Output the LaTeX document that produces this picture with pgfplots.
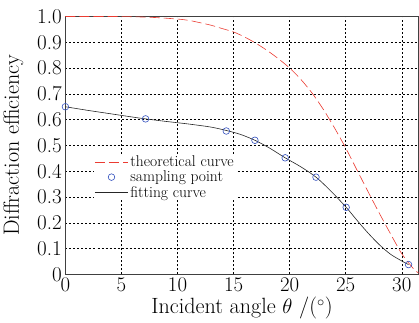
\documentclass[border=0pt]{standalone}
\usepackage{pgfplots}
\pgfplotsset{compat=1.18}
\definecolor{theo}{RGB}{235,60,50}
\definecolor{samp}{RGB}{50,80,190}
\begin{document}
\begin{tikzpicture}
\begin{axis}[
  scale only axis,
  width=352pt, height=257pt,
  xmin=0, xmax=31.5, ymin=0, ymax=1,
  xtick={0,5,10,15,20,25,30},
  ytick={0,0.1,0.2,0.3,0.4,0.5,0.6,0.7,0.8,0.9,1.0},
  yticklabels={0,0.1,0.2,0.3,0.4,0.5,0.6,0.7,0.8,0.9,1.0},
  grid=major,
  grid style={black, dash pattern=on 2pt off 2pt, line width=0.5pt},
  major tick length=0pt,
  axis line style={black!75, line width=0.8pt},
  tick label style={font=\fontsize{21}{21}\selectfont},
  label style={font=\fontsize{22}{22}\selectfont},
  xlabel={Incident angle $\theta$ /($^\circ$)},
  ylabel={Diffraction efficiency},
  xlabel style={yshift=1pt},
  ylabel style={yshift=7pt},
  legend style={draw=none, fill=white, at={(axis cs:2.5,0.465)}, anchor=north west,
    font=\fontsize{15.5}{14}\selectfont, row sep=3pt, inner sep=1pt,
    nodes={inner ysep=0pt}},
  legend cell align=left,
  legend image code/.code={\draw[mark repeat=2,mark phase=2] plot coordinates {(0cm,0cm) (0.58cm,0cm) (1.16cm,0cm)};},
]
\addplot[theo, line width=0.6pt, dash pattern=on 10pt off 4pt, smooth] coordinates {
 (0,1.0) (2,1.0) (4,1.0) (6,0.999) (8,0.996) (10,0.99) (11,0.985) (12,0.976) (13,0.966)
 (14,0.953) (15,0.94) (16,0.92) (17,0.896) (18,0.868) (19,0.836) (20,0.80) (21,0.756)
 (22,0.703) (23,0.64) (24,0.568) (25,0.49) (26,0.405) (27,0.32) (28,0.237) (29,0.157)
 (30,0.08) (31,0.024) (31.5,0.005)};
\addlegendentry{theoretical curve}
\addplot[only marks, mark=o, mark size=3.3pt, samp, line width=0.6pt] coordinates {
 (0,0.65) (7.15,0.603) (14.35,0.556) (16.9,0.52) (19.6,0.452) (22.35,0.377) (25.04,0.26) (30.6,0.038)};
\addlegendentry{sampling point}
\addplot[black!85, line width=0.6pt, smooth] coordinates {
 (0,0.65) (2,0.636) (4,0.623) (6,0.61) (7.15,0.603) (9,0.593) (11,0.583) (13,0.571)
 (14.35,0.558) (15.6,0.543) (16.9,0.52) (18.2,0.49) (19.6,0.452) (21,0.417) (22.35,0.377)
 (23.7,0.322) (25.04,0.26) (26,0.21) (27,0.16) (28,0.115) (29,0.078) (30,0.052) (30.6,0.038)};
\addlegendentry{fitting curve}
\end{axis}
\path ([yshift=6pt]current bounding box.north);
\end{tikzpicture}
\end{document}
